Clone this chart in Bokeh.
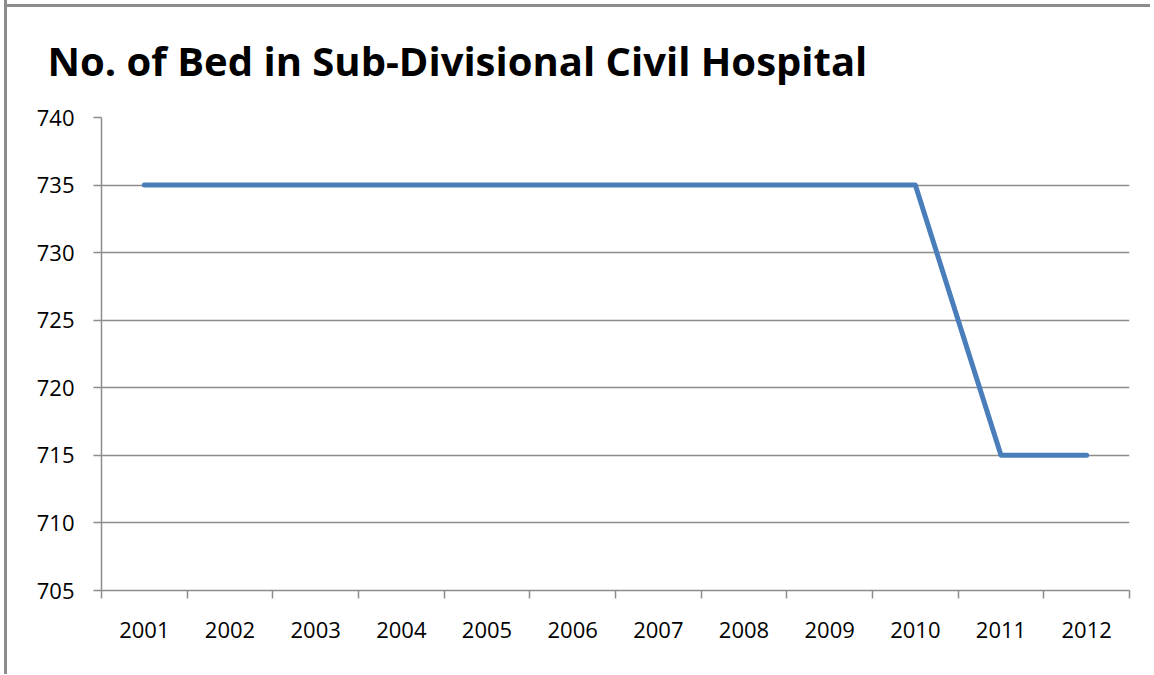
from bokeh.plotting import figure
from bokeh.models import Range1d, FixedTicker, Title
from bokeh.embed import file_html
from bokeh.resources import INLINE

# Data
years = [2001, 2002, 2003, 2004, 2005, 2006, 2007, 2008, 2009, 2010, 2011, 2012]
beds = [735, 735, 735, 735, 735, 735, 735, 735, 735, 735, 715, 715]
y_ticks = [705, 710, 715, 720, 725, 730, 735, 740]
title_text = "No. of Bed in Sub-Divisional Civil Hospital"

GRAY = "#8c8c8c"
FONT = "Open Sans"

p = figure(width=1146, height=674, output_backend="svg", toolbar_location=None,
           x_range=Range1d(years[0] - 0.5, years[-1] + 0.5),
           y_range=Range1d(y_ticks[0], y_ticks[-1]),
           min_border_left=94, min_border_right=24, min_border_top=117, min_border_bottom=84)
p.stylesheets = [":host { margin-left: 4px; margin-top: 0px; "
                 "border-left: 3px solid #8c8c8c; "
                 "background: linear-gradient(#8c8c8c, #8c8c8c) 0px 4px / 100% 3px no-repeat, white; "
                 "background-origin: border-box; background-clip: border-box; }"]
p.outline_line_color = None
p.background_fill_color = "white"
p.border_fill_color = None

p.line(years, beds, line_color="#4a7ebb", line_width=5, line_cap="round", line_join="round")

# y axis
p.yaxis.ticker = FixedTicker(ticks=y_ticks)
p.yaxis.axis_line_color = GRAY
p.yaxis.axis_line_width = 1.5
p.yaxis.major_tick_line_color = GRAY
p.yaxis.major_tick_line_width = 1.5
p.yaxis.major_tick_out = 8
p.yaxis.major_tick_in = 0
p.yaxis.minor_tick_line_color = None
p.yaxis.major_label_text_font = FONT
p.yaxis.major_label_text_font_size = "22px"
p.yaxis.major_label_text_color = "black"
p.yaxis.major_label_standoff = 19

# x axis: labels at year, ticks between years
p.xaxis.ticker = FixedTicker(ticks=years, minor_ticks=[y - 0.5 for y in years] + [years[-1] + 0.5])
p.xaxis.major_label_overrides = {y: str(y) for y in years}
p.xaxis.axis_line_color = GRAY
p.xaxis.axis_line_width = 1.5
p.xaxis.major_tick_line_color = None
p.xaxis.major_tick_out = 0
p.xaxis.major_tick_in = 0
p.xaxis.minor_tick_line_color = GRAY
p.xaxis.minor_tick_line_width = 1.5
p.xaxis.minor_tick_out = 8
p.xaxis.minor_tick_in = 0
p.xaxis.major_label_text_font = FONT
p.xaxis.major_label_text_font_size = "22px"
p.xaxis.major_label_text_color = "black"
p.xaxis.major_label_standoff = 23

p.xgrid.grid_line_color = None
p.ygrid.ticker = FixedTicker(ticks=y_ticks)
p.ygrid.grid_line_color = GRAY
p.ygrid.grid_line_width = 1.5

# title
p.add_layout(Title(text=title_text, text_font=FONT, text_font_style="bold",
                   text_font_size="40px", text_color="black", align="left",
                   offset=-54, standoff=60), "above")

open("out.html", "w").write(file_html(p, INLINE))
